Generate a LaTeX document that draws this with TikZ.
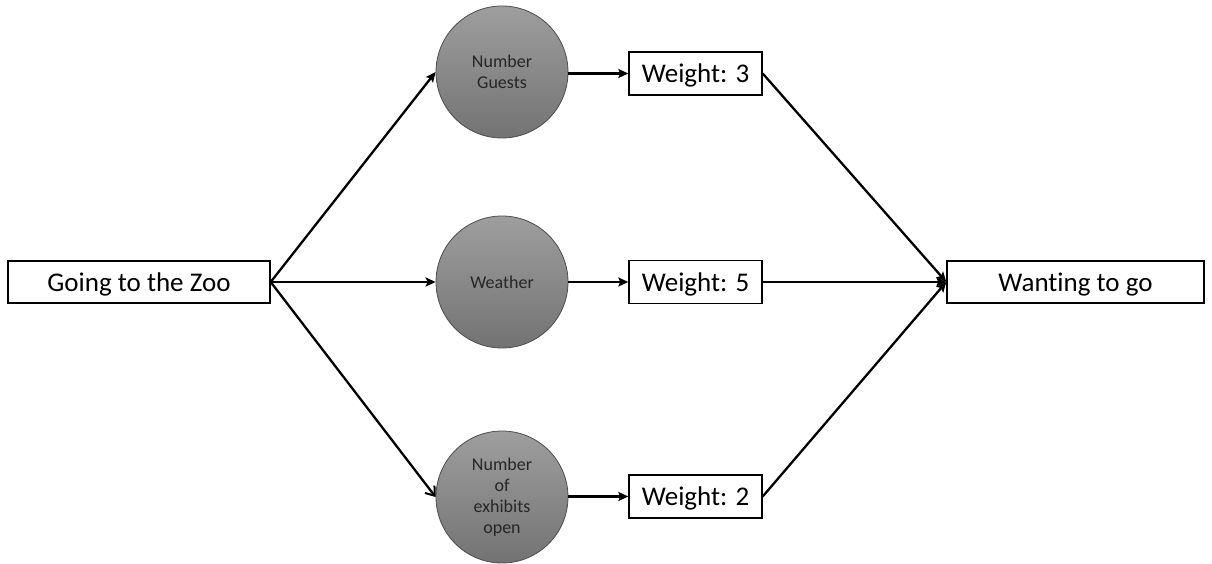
\documentclass[tikz,border=0pt]{standalone}
\usepackage{fontspec}
\setmainfont[Ligatures=CommonOff]{Carlito}
\usetikzlibrary{arrows.meta,shadings}
\begin{document}
\begin{tikzpicture}[x=1pt,y=-1pt,
  bigbox/.style={draw=black,line width=1.4pt,fill=white,minimum width=262pt,minimum height=42pt,inner sep=0pt,text height=20pt,text depth=2pt,font=\fontsize{27}{30}\selectfont},
  wbox/.style={draw=black,line width=1.4pt,fill=white,minimum width=133pt,minimum height=43pt,inner sep=0pt,text height=20pt,text depth=2pt,font=\fontsize{27}{30}\selectfont},
  ball/.style={circle,draw=black!70,line width=0.8pt,minimum size=132pt,inner sep=0pt,top color=black!38,bottom color=black!55,align=center,font=\fontsize{18}{21}\selectfont,text=black!85},
  conn/.style={line width=2.3pt,-{Stealth[length=10pt,width=9pt,inset=2pt]}},
  connopen/.style={line width=2.3pt,-{Straight Barb[length=8pt,width=12pt,line width=2pt]}}
]
\useasboundingbox (0,0) rectangle (1212,564);
\node[bigbox] (zoo) at (139,282) {Going to the Zoo};
\node[bigbox,minimum width=257pt] (want) at (1075.5,282) {Wanting to go};
\node[ball] (guests) at (502,72) {Number\\Guests};
\node[ball] (weather) at (502,282) {Weather};
\node[ball] (exhibits) at (502,497) {Number\\of\\exhibits\\open};
\node[wbox] (w3) at (695.5,73.5) {Weight: 3};
\node[wbox] (w5) at (695.5,282) {Weight: 5};
\node[wbox] (w2) at (695.5,496.5) {Weight: 2};
\draw[conn] (zoo.east) -- (guests.west);
\draw[conn] (zoo.east) -- (weather.west);
\draw[connopen] (zoo.east) -- (exhibits.west);
\draw[conn] (guests.east |- w3.west) -- (w3.west);
\draw[conn] (weather.east) -- (w5.west);
\draw[conn] (exhibits.east |- w2.west) -- (w2.west);
\draw[conn] (w3.east) -- (want.west);
\draw[conn] (w5.east) -- (want.west);
\draw[conn] (w2.east) -- (want.west);
\end{tikzpicture}
\end{document}
